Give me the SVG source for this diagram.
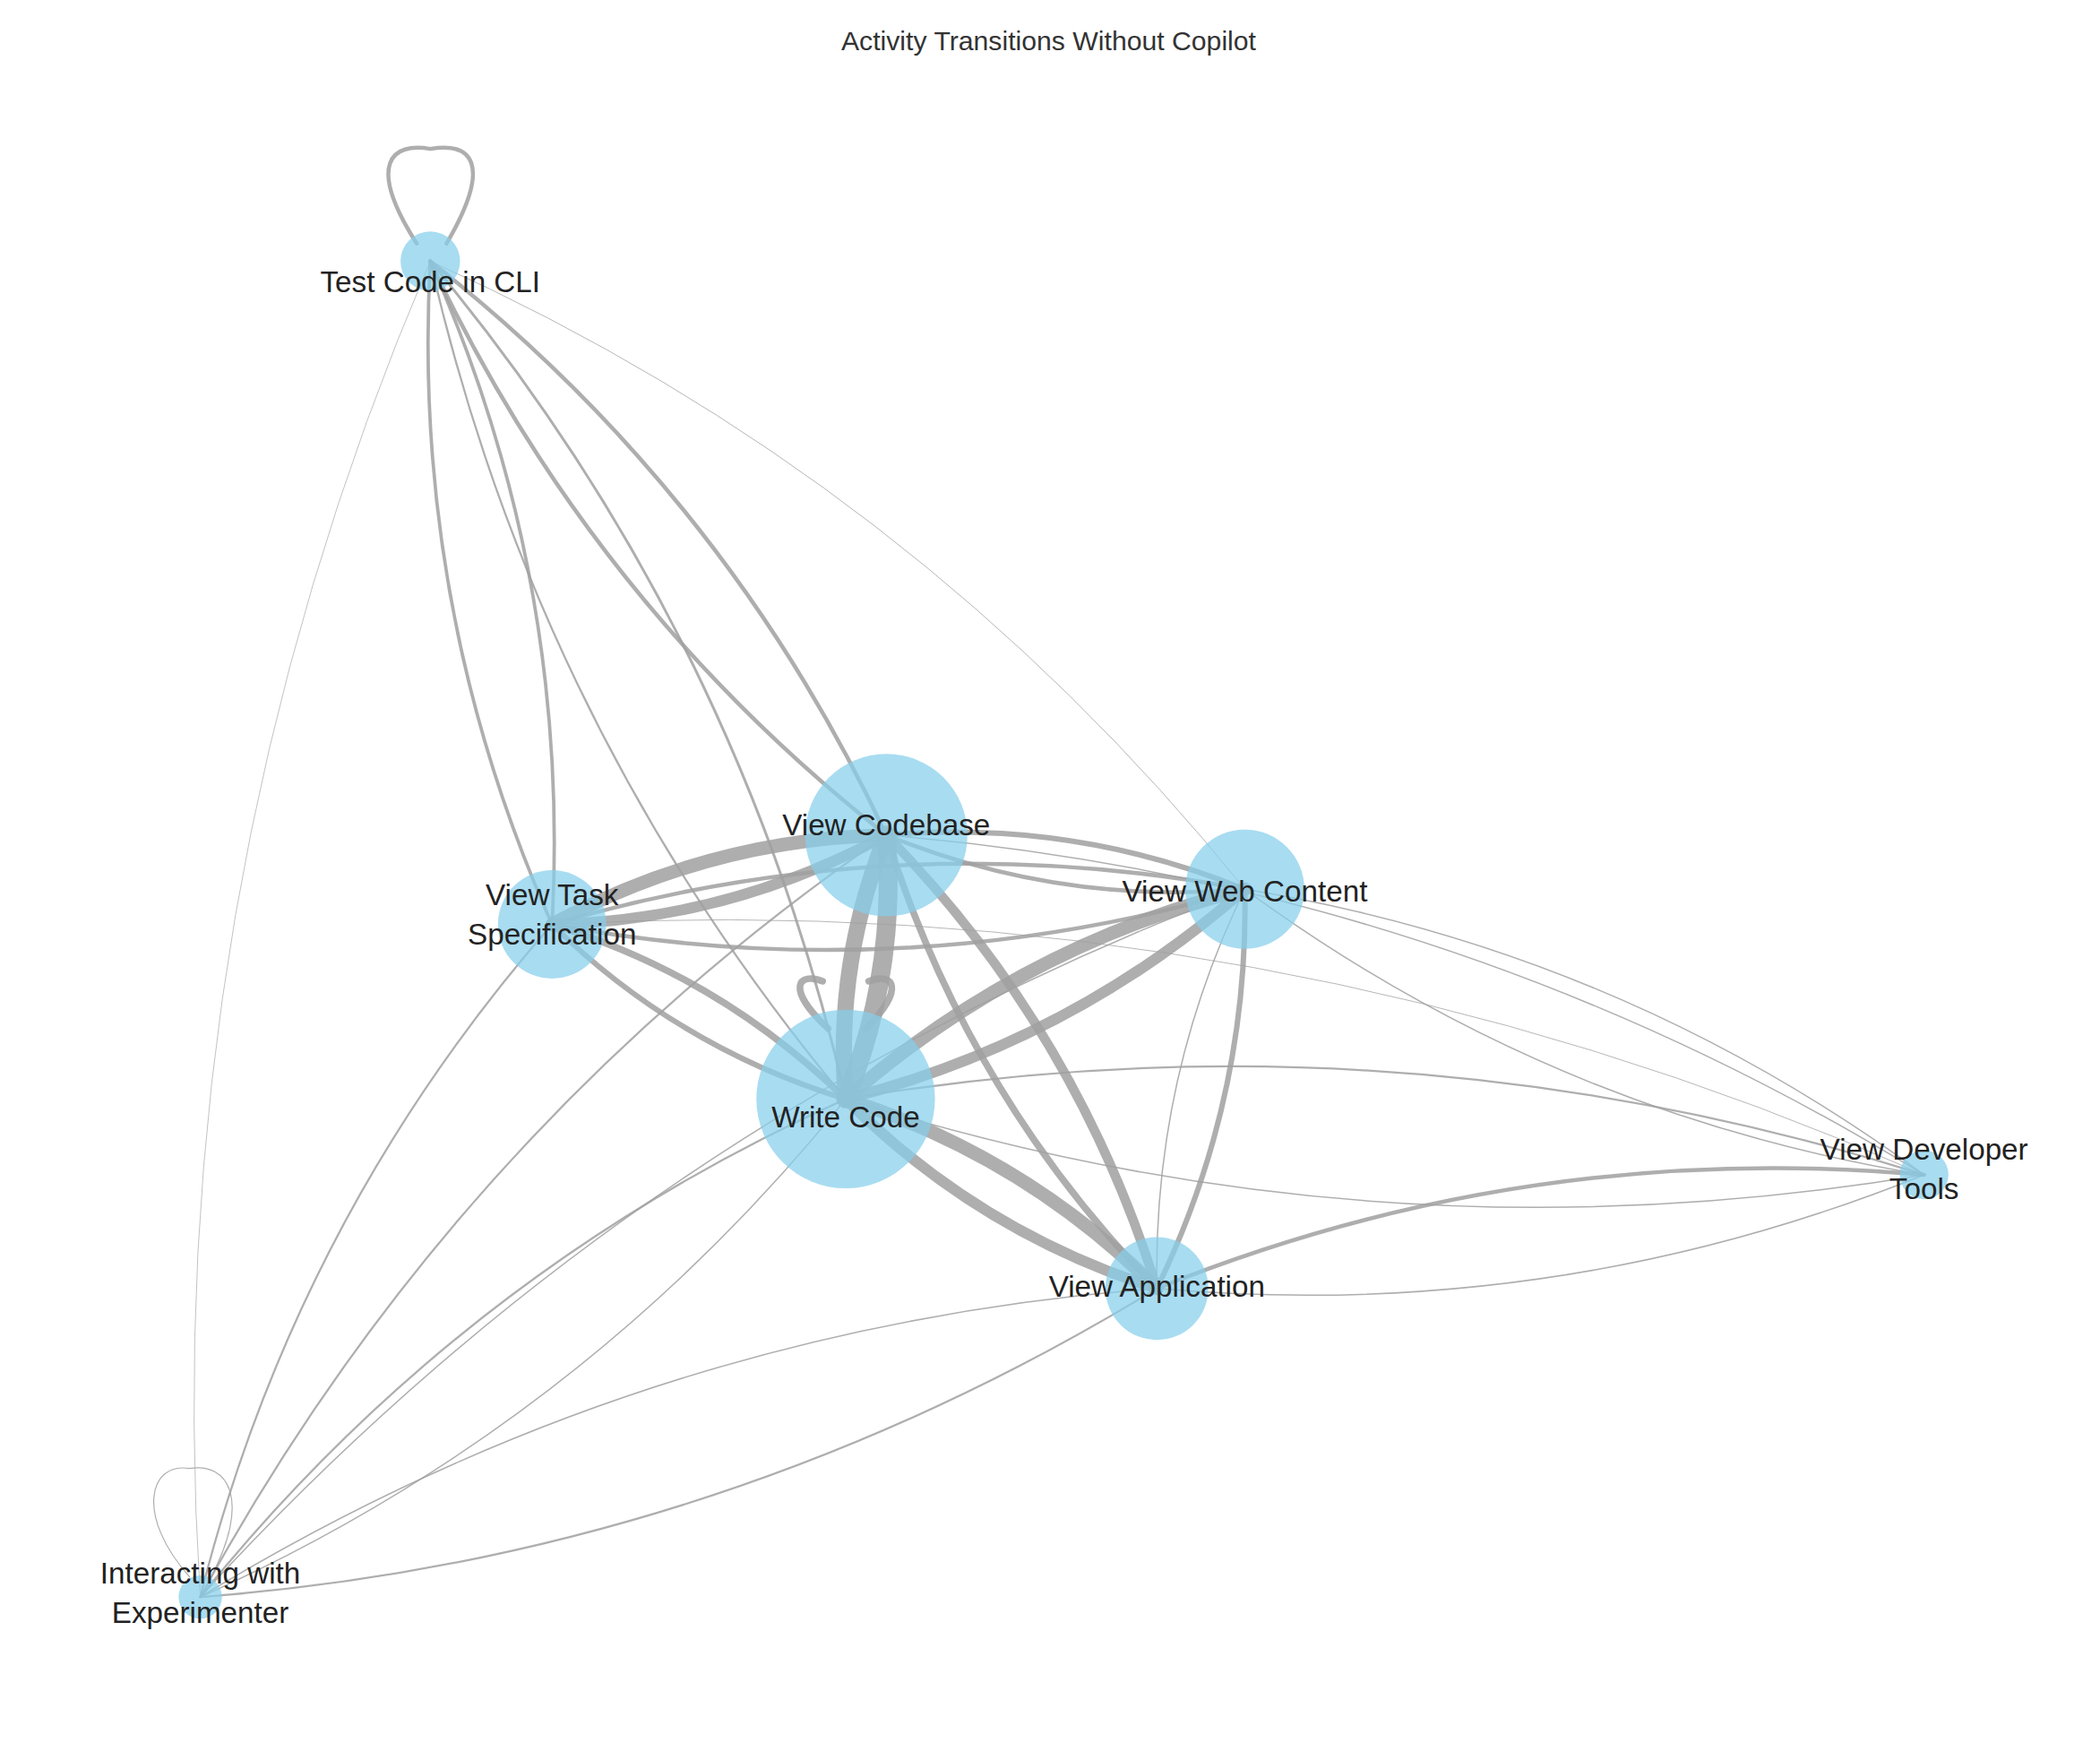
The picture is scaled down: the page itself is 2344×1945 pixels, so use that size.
<svg xmlns="http://www.w3.org/2000/svg" width="2344" height="1945" viewBox="0 0 2344 1945">
<style>
.e{fill:none;stroke:#a0a0a0;stroke-opacity:0.85;stroke-linecap:round}
.n{fill:#87ceeb;fill-opacity:0.72}
.l{font-family:"Liberation Sans",Arial,sans-serif;font-size:22px;fill:#222;text-anchor:middle}
.t{font-family:"Liberation Sans",Arial,sans-serif;font-size:20px;fill:#333;text-anchor:middle}
</style>
<defs><marker id="a" viewBox="0 0 10 10" refX="9" refY="5" markerWidth="4" markerHeight="4" orient="auto"><path d="M0,0L10,5L0,10z" fill="#a0a0a0"/></marker></defs>
<rect width="2344" height="1945" fill="#fff"/>
<g transform="scale(1.5103)">
<text class="t" x="775" y="37">Activity Transitions Without Copilot</text>
<g id="edges">
<path class="e" stroke-width="14" d="M655,617Q663,718 625,812"/>
<path class="e" stroke-width="12" d="M625,812Q617,711 655,617"/>
<path class="e" stroke-width="10" d="M408,683Q524,620 655,617"/>
<path class="e" stroke-width="8" d="M655,617Q539,680 408,683"/>
<path class="e" stroke-width="10" d="M625,812Q754,699 920,657"/>
<path class="e" stroke-width="8" d="M920,657Q791,770 625,812"/>
<path class="e" stroke-width="10" d="M625,812Q757,854 855,952"/>
<path class="e" stroke-width="8" d="M855,952Q723,910 625,812"/>
<path class="e" stroke-width="7" d="M655,617Q795,760 855,952"/>
<path class="e" stroke-width="5" d="M855,952Q715,809 655,617"/>
<path class="e" stroke-width="5" d="M408,683Q532,721 625,812"/>
<path class="e" stroke-width="4" d="M625,812Q501,774 408,683"/>
<path class="e" stroke-width="4" d="M655,617Q792,605 920,657"/>
<path class="e" stroke-width="3" d="M920,657Q783,669 655,617"/>
<path class="e" stroke-width="3" d="M408,683Q661,609 920,657"/>
<path class="e" stroke-width="3" d="M920,657Q667,731 408,683"/>
<path class="e" stroke-width="3" d="M318,193Q537,365 655,617"/>
<path class="e" stroke-width="3" d="M655,617Q436,445 318,193"/>
<path class="e" stroke-width="2.5" d="M318,193Q422,427 408,683"/>
<path class="e" stroke-width="2.5" d="M408,683Q304,449 318,193"/>
<path class="e" stroke-width="2" d="M318,193Q546,466 625,812"/>
<path class="e" stroke-width="1.5" d="M625,812Q397,539 318,193"/>
<path class="e" stroke-width="0.6" d="M318,193Q675,353 920,657"/>
<path class="e" stroke-width="1.5" d="M148,1180Q218,900 408,683"/>
<path class="e" stroke-width="1.5" d="M148,1180Q342,939 625,812"/>
<path class="e" stroke-width="1" d="M625,812Q431,1053 148,1180"/>
<path class="e" stroke-width="1.5" d="M148,1180Q334,838 655,617"/>
<path class="e" stroke-width="1" d="M148,1180Q474,981 855,952"/>
<path class="e" stroke-width="1.5" d="M855,952Q529,1151 148,1180"/>
<path class="e" stroke-width="1" d="M148,1180Q471,826 920,657"/>
<path class="e" stroke-width="0.5" d="M148,1180Q115,666 318,193"/>
<path class="e" stroke-width="1" d="M855,952Q852,797 920,657"/>
<path class="e" stroke-width="4" d="M855,952Q923,812 920,657"/>
<path class="e" stroke-width="3" d="M855,952Q1128,842 1422,868"/>
<path class="e" stroke-width="1" d="M1422,868Q1149,978 855,952"/>
<path class="e" stroke-width="1.5" d="M625,812Q1030,744 1422,868"/>
<path class="e" stroke-width="1" d="M1422,868Q1017,936 625,812"/>
<path class="e" stroke-width="1" d="M920,657Q1196,702 1422,868"/>
<path class="e" stroke-width="1" d="M1422,868Q1146,823 920,657"/>
<path class="e" stroke-width="1" d="M655,617Q1069,651 1422,868"/>
<path class="e" stroke-width="0.6" d="M408,683Q937,654 1422,868"/>
<path class="e" stroke-width="3" d="M308,180C270,120 290,105 318,110C348,105 365,120 330,180"/>
<path class="e" stroke-width="5" d="M612,760C580,730 590,718 608,725M640,760C670,730 660,718 642,725"/>
<path class="e" stroke-width="0.8" d="M140,1165C100,1120 110,1080 140,1085C170,1080 185,1110 156,1165"/>
</g>
<g id="n-write"><circle class="n" cx="625" cy="812" r="66"/><text class="l" x="625" y="833">Write Code</text></g>
<g id="n-codebase"><circle class="n" cx="655" cy="617" r="60"/><text class="l" x="655" y="617">View Codebase</text></g>
<g id="n-task"><circle class="n" cx="408" cy="683" r="40"/><text class="l" x="408" y="669">View Task</text><text class="l" x="408" y="698">Specification</text></g>
<g id="n-web"><circle class="n" cx="920" cy="657" r="44"/><text class="l" x="920" y="666">View Web Content</text></g>
<g id="n-app"><circle class="n" cx="855" cy="952" r="38"/><text class="l" x="855" y="958">View Application</text></g>
<g id="n-dev"><circle class="n" cx="1422" cy="868" r="18"/><text class="l" x="1422" y="857">View Developer</text><text class="l" x="1422" y="886">Tools</text></g>
<g id="n-cli"><circle class="n" cx="318" cy="193" r="22"/><text class="l" x="318" y="216">Test Code in CLI</text></g>
<g id="n-exp"><circle class="n" cx="148" cy="1180" r="16"/><text class="l" x="148" y="1170">Interacting with</text><text class="l" x="148" y="1199">Experimenter</text></g>
</g>
</svg>
